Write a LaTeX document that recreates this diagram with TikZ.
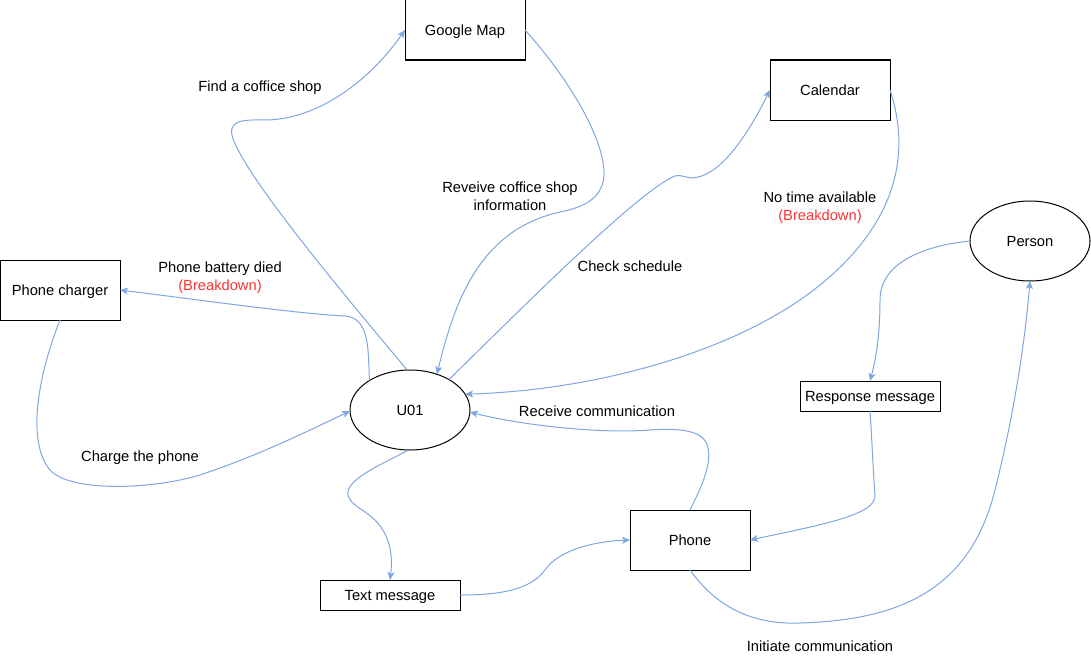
\documentclass[tikz,border=0pt]{standalone}
\usepackage{fontspec}
\setmainfont{Liberation Sans}
\usetikzlibrary{arrows.meta,shapes.geometric}
\definecolor{edgeblue}{HTML}{7EA6E0}
\definecolor{brk}{HTML}{FF3333}
\newcommand\dfont{\fontsize{14.7pt}{18pt}\selectfont}
\begin{document}
\begin{tikzpicture}[x=1pt,y=-1pt,
  txt/.style={font=\dfont, text height=13.3pt, text depth=3.1pt},
  box/.style={txt, draw, line width=1pt, minimum width=120pt, minimum height=60pt, inner sep=0pt, outer sep=0pt},
  sbox/.style={txt, draw, line width=1pt, minimum width=140pt, minimum height=30pt, inner sep=0pt, outer sep=0pt},
  ell/.style={txt, ellipse, draw, line width=1pt, minimum width=120pt, minimum height=80pt, inner sep=0pt, outer sep=0pt},
  conn/.style={draw=edgeblue, line width=1pt, -{Stealth[length=8pt,width=7pt,inset=2pt]}},
  lbl/.style={txt, inner sep=0pt},
  lbltwo/.style={font=\dfont, align=center, inner sep=0pt}]
\useasboundingbox (0,0) rectangle (1091,661);
% nodes
\node[box] (gm) at (465,30) {Google Map};
\node[box] (cal) at (830,90) {Calendar};
\node[ell] (p) at (1030,241) {Person};
\node[box] (pc) at (60,290) {Phone charger};
\node[ell] (u) at (410,410) {U01};
\node[sbox] (rm) at (870,396) {Response message};
\node[box] (ph) at (690,540) {Phone};
\node[sbox] (tm) at (390,595) {Text message};
% connectors
\draw[conn] (u.94) .. controls (340,290) and (240,170) .. (232,135)
  .. controls (228,118) and (250,120) .. (268,120)
  .. controls (320,118) and (370,80) .. (gm.west);
\draw[conn] (gm.east) .. controls (570,80) and (605,140) .. (604,175)
  .. controls (603,200) and (580,208) .. (560,212)
  .. controls (480,230) and (455,300) .. (u.53);
\draw[conn] (u.38) .. controls (530,300) and (640,190) .. (675,176)
  .. controls (683,174) and (688,180) .. (698,177)
  .. controls (730,170) and (760,110) .. (cal.west);
\draw[conn] (cal.east) .. controls (910,150) and (900,220) .. (820,285)
  .. controls (740,350) and (600,390) .. (u.16);
\draw[conn] (u.144) .. controls (368,350) and (370,318) .. (345,316)
  .. controls (300,314) and (200,300) .. (pc.east);
\draw[conn] (pc.south) .. controls (40,370) and (25,440) .. (50,470)
  .. controls (70,492) and (150,490) .. (200,475)
  .. controls (260,455) and (310,430) .. (u.181);
\draw[conn] (u.268) .. controls (380,465) and (345,480) .. (348,495)
  .. controls (350,505) and (365,510) .. (375,520)
  .. controls (390,535) and (393,555) .. (tm.north);
\draw[conn] (tm.east) .. controls (500,595) and (530,590) .. (545,570)
  .. controls (560,548) and (600,541) .. (ph.west);
\draw[conn] (ph.north) .. controls (700,490) and (712,465) .. (708,448)
  .. controls (705,430) and (680,428) .. (650,430)
  .. controls (600,434) and (520,425) .. (u.-2);
\draw[conn] (ph.south) .. controls (715,605) and (750,625) .. (800,623)
  .. controls (900,620) and (970,590) .. (995,490)
  .. controls (1015,410) and (1025,340) .. (p.south);
\draw[conn] (p.west) .. controls (930,245) and (880,260) .. (880,300)
  .. controls (880,330) and (877,355) .. (rm.north);
\draw[conn] (rm.south) .. controls (872,440) and (873,470) .. (875,495)
  .. controls (877,515) and (820,525) .. (ph.east);
% labels
\node[lbl] (l1) at (260,86) {Find a coffice shop};
\node[lbltwo] (l2) at (510,196) {Reveive coffice shop\\information};
\node[lbl] (l3) at (630,266) {Check schedule};
\node[lbltwo] (l4) at (820,208) {No time available\\\textcolor{brk}{(Breakdown)}};
\node[lbltwo] (l5) at (220,278) {Phone battery died\\\textcolor{brk}{(Breakdown)}};
\node[lbl] (l6) at (140,456) {Charge the phone};
\node[lbl] (l7) at (597,411) {Receive communication};
\node[lbl] (l8) at (820,646) {Initiate communication};
\end{tikzpicture}
\end{document}
